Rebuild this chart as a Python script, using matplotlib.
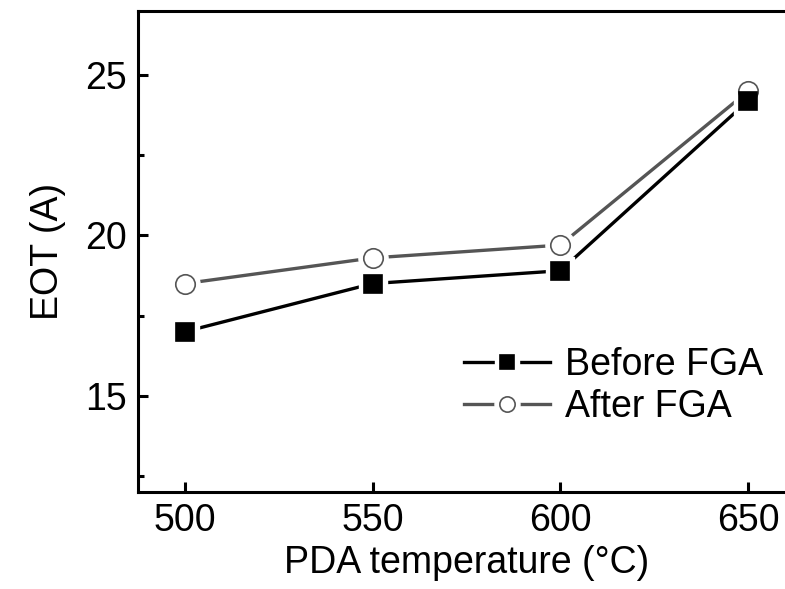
import matplotlib
matplotlib.use('Agg')
import matplotlib.pyplot as plt
from matplotlib.lines import Line2D
from matplotlib.ticker import MultipleLocator

plt.rcParams['font.family'] = ['Liberation Sans', 'DejaVu Sans']

# data
temps = [500, 550, 600, 650]
eot_before = [17.0, 18.5, 18.9, 24.2]
eot_after = [18.5, 19.3, 19.7, 24.5]

gray = '#555555'

fig = plt.figure(figsize=(7.85, 5.89), dpi=100)
# axes run past the right edge, like the cropped original
ax = fig.add_axes([138/785, 97/589, (795-138)/785, (492-11)/589])

def draw(x, y, color, marker, face, edge, ms):
    ax.plot(x, y, color=color, lw=2.4, zorder=2)
    ax.plot(x, y, ls='none', marker=marker, ms=ms + 7, mfc='white', mec='white', zorder=3)
    ax.plot(x, y, ls='none', marker=marker, ms=ms, mfc=face, mec=edge, mew=1.2, zorder=4)

draw(temps, eot_after, gray, 'o', 'white', gray, 14)
draw(temps, eot_before, 'black', 's', 'black', 'black', 12.5)

ax.set_xlim(487.5, 662.5)
ax.set_ylim(12, 27)
ax.xaxis.set_major_locator(MultipleLocator(50))
ax.yaxis.set_major_locator(MultipleLocator(5))
ax.yaxis.set_minor_locator(MultipleLocator(2.5))

for s in ax.spines.values():
    s.set_linewidth(2.2)
ax.tick_params(which='major', direction='in', length=7, width=2.2, labelsize=27, pad=8)
ax.tick_params(which='minor', direction='in', length=4, width=2.2)
ax.tick_params(axis='x', which='both', top=False)
ax.tick_params(axis='y', which='both', right=False)

ax.set_xlabel('PDA temperature (°C)', fontsize=27, labelpad=4)
ax.set_ylabel('EOT (A)', fontsize=27, labelpad=14)

def handle(color, marker, face, edge, ms):
    ln = Line2D([], [], color=color, lw=2.4)
    wm = Line2D([], [], ls='none', marker=marker, ms=ms + 7, mfc='white', mec='white')
    mk = Line2D([], [], ls='none', marker=marker, ms=ms, mfc=face, mec=edge, mew=1.2)
    return (ln, wm, mk)

h1 = handle('black', 's', 'black', 'black', 10)
h2 = handle(gray, 'o', 'white', gray, 11)
fig.legend([h1, h2], ['Before FGA', 'After FGA'], loc='center left',
           bbox_to_anchor=(445/785, 1 - 386/589), frameon=False, fontsize=27,
           handlelength=2.3, handletextpad=0.4, labelspacing=0.15, borderpad=0)

fig.savefig('out.png', dpi=100, facecolor='white')
